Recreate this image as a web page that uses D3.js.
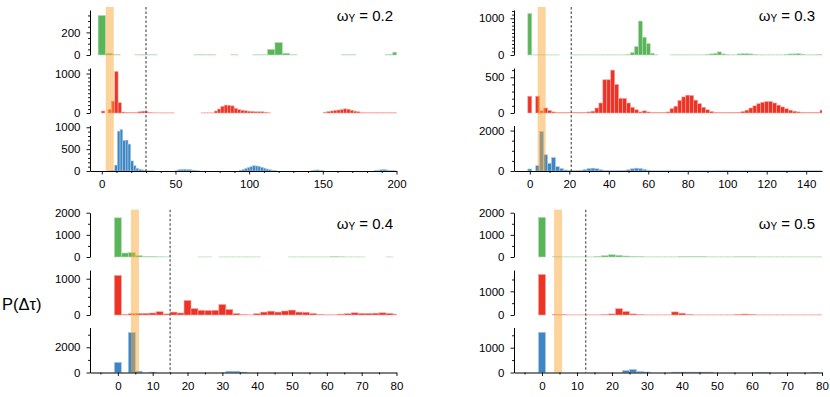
<!DOCTYPE html>
<html>
<head>
<meta charset="utf-8">
<script src="https://cdn.jsdelivr.net/npm/d3@7"></script>
<style>
  body { margin: 0; background: #fff; }
  svg text { font-family: "Liberation Sans", Arial, Helvetica, sans-serif; }
</style>
</head>
<body>
<div id="vis"></div>
<script>
// panel values
const omegaY = ['0.2', '0.3', '0.4', '0.5'];
const xMax = [200, 148, 80, 80];
const xMajor = [50, 20, 10, 10];
const xMinor = [10, 10, 5, 5];
const bandCenter = [5.4, 6, 4.9, 4.6];
const cutoff = [30, 21, 15, 12.5];

// histogram bins per panel: green, red, blue
const binStart = [[-2.5, -0.2, -0.2], [-1, -1, -1], [-1, -1, -1], [-1, -1, -1]];
const binWidth = [[5, 2.25, 1.8], [2, 2, 2], [2, 2, 2], [2, 2, 2]];
const yMax = [[398, 1140, 1040], [1226, 630, 2250], [2000, 1240, 3570], [2000, 1900, 1815]];
const yMajor = [[200, 1000, 500], [1000, 500, 2000], [1000, 1000, 2000], [1000, 1000, 1000]];
const yMinor = [[50, 100, 100], [100, 100, 500], [500, 250, 1000], [500, 500, 500]];

// counts (null = empty bin)
const green02 = [350, 15, 3, null, null, 2, 2, 2, null, null, null, null, null, 2, 2, 2, null, null, 2, null,
  null, 2, 2, 50, 110, 15, 2, null, null, null, null, null, null, 2, 2, null, null, null, null, 3, 25];
const red02 = [50, null, 90, 300, 1050, 260, 25, 15, 10, 8, 10, 30, 45, 45, 10, 5,
  3, 3, 3, 3, 3, 3, null, null, null, null, null, null, null, null, 3, 3, 3, 3,
  50, 100, 170, 200, 195, 180, 120, 85, 70, 55, 45, 40, 30, 30, 30, 20, 5,
  null, null, null, null, null, null, null, null, null, null, null, null, null, null, null, null,
  20, 35, 50, 65, 75, 85, 105, 95, 70, 45, 30,
  5, 5, 5, 5, 5, 5, 5, 5, 5, 5, 5, 5];
const blue02 = [null, null, null, 5, 10, 135, 910, 945, 700, 705, 615, 230, 120, 60, 40, 25, 10, 3, 3, 3,
  null, null, null, null, null, null, null, null, 15, 30, 40, 40, 35, 30, 20, 10, 5,
  null, null, null, null, null, null, null, null, null, null, null, null, null, null, null,
  20, 35, 55, 80, 100, 120, 115, 105, 85, 65, 45, 30, 15, 8,
  null, null, null, null, null, null, null, null, null, null, null, null, null,
  10, 20, 25, 15, 5,
  null, null, null, null, null, null, null, null, null, null, null, null, null, null, null, null, null, null, null,
  10, 20, 30, 35, 25, 15, 10, 5];

const green03 = [1130, 3, 3, 3, 3, 3, 3, 3, null, null, null, 3, 3, 3, 3, 3, 3, 3, 3, 3, 3, 3, 3, 3, 3,
  10, 65, 230, 925, 485, 310, 45, 5, null, null, null, 3, 3, 3, 3, 3, 3, 3, 3, 3,
  20, 30, 45, 85, 30, 10, 3, 3, 30, 35, 35, 30, 10, 3, 3, 3, 3, 3, 3, 3,
  20, 30, 30, 40, 25, 5, 3, 3, 10, 15];
const red03 = [235, null, 235, 30, 70, 35, 15, 5, 5, 5, 5, 10, 10, 10, 10,
  15, 25, 70, 140, 465, 465, 600, 400, 205, 205, 140, 80, 45, 15, 30, 15, 8, 8, 8, 8,
  15, 60, 95, 175, 225, 250, 245, 180, 130, 80, 45, 20, 10, 5, 5, 5, 5,
  8, 10, 20, 40, 70, 100, 130, 150, 160, 160, 140, 110, 85, 60, 40, 25, 15, 10, 8, 8, 8, 8, 40];
const blue03 = [100, null, 265, 1950, 800, 380, 665, 215, 120, 50, 20, 20, 20,
  40, 70, 120, 140, 110, 60, 30, 15, 15, 15, 15, 30, 60, 110, 140, 120, 80, 40,
  10, 10, 10, 10, 10, 10, 10, 10, 10, 10, 10, 10, 10, 10, 10, 10, 15, 20, 20, 15,
  10, 10, 10, 10, 10, 10, 10, 10, 10, 10, 10, 10, 10, 10, 10, 10, 10, 10, 10, 10, 10, 10, 10, 10];

const green04 = [1770, 180, 195, 60, 30, 15, 8, 5, null, null, null, null, 3, 3, null, 3, 3, 3, 3, 3, 3,
  null, null, null, null, 3, 3, 3, 3, 3, 3, 15, 10, 3, 3, 3, null, null, null, 3, null];
const red04 = [1090, 15, 35, 45, 45, 55, 90, 30, 80, 55, 400, 175, 130, 120, 130, 290, 150, 40, 10, 5,
  35, 80, 105, 80, 110, 135, 80, 75, 40, 20, 5, 5, 25, 35, 60, 45, 45, 50, 60, 45, 25];
const blue04 = [800, null, 3170, 100, null, 30, null, null, null, null, null, null, null, null, null, null,
  100, 100, 30, null, null, null, null, null, null, null, null, null, null, null, null, null, null, null, null,
  null, null, null, null, null, null];

const green05 = [1790, null, 10, 5, 5, 5, 5, 5, 30, 60, 100, 75, 45, 30, 15, 5, 5, 5, 5, 5,
  15, 15, 15, 15, 5, 5, 5, 5, 12, 12, 12, 5, 5, 5, 5, 5, 5, 5, 5, 5, 5];
const red05 = [1710, null, 30, 15, 5, 5, 5, 5, 5, 15, 45, 265, 145, 45, 15, 5, 5, 5, 5, 130, 75, 30,
  5, 5, 5, 5, 5, 5, 30, 40, 30, 5, 5, 5, 5, 5, 5, 5, 5, 5, 5];
const blue05 = [1620, null, null, null, null, null, null, null, null, null, null, null, 80, 120, 40, 20,
  null, null, null, 15, 15, 15, 15, 15, 15, null, null, null, null, null, null, 10, 10,
  null, null, null, null, null, null, 10, null];

const series = [[green02, red02, blue02], [green03, red03, blue03], [green04, red04, blue04], [green05, red05, blue05]];

// layout
const width = 830, height = 397;
const colLeft = [90, 514], colRight = [396.5, 822];
const titleX = [393, 815], titleY = [21, 228.5];
const rowBands = [
  [[10, 55], [68, 113], [125.5, 171]],
  [[212.7, 257], [270, 315], [327.5, 372.5]]
];
const colors = ['#5ab55a', '#ec3325', '#3f87c4'];
const fontStack = '"Liberation Sans", Arial, Helvetica, sans-serif';

let svg = d3.select('#vis')
  .append('svg')
  .attr('width', width)
  .attr('height', height);

function minorTicks(lo, hi, step, major) {
  return d3.range(Math.ceil(lo / step) * step, hi + 1e-6, step)
    .filter(v => Math.abs(v / major - Math.round(v / major)) > 1e-6);
}

function styleAxis(g) {
  g.attr('font-size', 11.5).attr('font-family', fontStack);
  g.selectAll('line').attr('stroke', '#000').attr('stroke-width', 0.9);
  g.selectAll('path').attr('stroke', '#000').attr('stroke-width', 1);
  g.selectAll('text').attr('fill', '#000');
}

omegaY.forEach(function(w, p) {
  let col = p % 2, row = Math.floor(p / 2);
  let xScale = d3.scaleLinear()
    .domain([-8, xMax[p]])
    .range([colLeft[col], colRight[col]]);

  let panel = svg.append('g');

  panel.append('clipPath')
    .attr('id', 'clip' + p)
    .append('rect')
      .attr('x', colLeft[col])
      .attr('y', 0)
      .attr('width', colRight[col] - colLeft[col])
      .attr('height', height);

  series[p].forEach(function(vals, s) {
    let top = rowBands[row][s][0], base = rowBands[row][s][1];
    let yScale = d3.scaleLinear()
      .domain([0, yMax[p][s]])
      .range([base, top]);

    let bw = binWidth[p][s];
    let bins = vals
      .map((v, i) => ({ x0: binStart[p][s] + i * bw, v: v }))
      .filter(d => d.v != null);

    //Draw bars
    panel.append('g')
      .attr('clip-path', 'url(#clip' + p + ')')
      .selectAll('rect')
      .data(bins)
      .join('rect')
        .attr('x', d => xScale(d.x0))
        .attr('width', d => xScale(d.x0 + bw) - xScale(d.x0))
        .attr('y', d => yScale(d.v))
        .attr('height', d => base - yScale(d.v))
        .attr('fill', colors[s])
        .attr('stroke', d3.interpolateRgb(colors[s], '#fff')(0.55))
        .attr('stroke-width', 0.6);

    // y axis, major + minor
    let yMaj = d3.range(0, yMax[p][s] + 1e-6, yMajor[p][s]);
    let yAxis = panel.append('g')
      .attr('transform', `translate(${colLeft[col]},0)`)
      .call(d3.axisLeft(yScale).tickValues(yMaj).tickSize(3.5).tickSizeOuter(0).tickPadding(6)
        .tickFormat(d3.format('d')));
    styleAxis(yAxis);
    let yMin = panel.append('g')
      .attr('transform', `translate(${colLeft[col]},0)`)
      .call(d3.axisLeft(yScale).tickValues(minorTicks(0, yMax[p][s], yMinor[p][s], yMajor[p][s]))
        .tickSize(2).tickFormat(''));
    yMin.select('.domain').remove();
    styleAxis(yMin);
  });

  let bandTop = rowBands[row][0][0] - 3;
  let bandBottom = rowBands[row][2][1];

  // orange band
  panel.append('rect')
    .attr('x', xScale(bandCenter[p]) - 4)
    .attr('width', 8)
    .attr('y', bandTop)
    .attr('height', bandBottom - bandTop)
    .attr('fill', '#f8a838')
    .attr('opacity', 0.5);

  // dashed cutoff
  panel.append('line')
    .attr('x1', xScale(cutoff[p])).attr('x2', xScale(cutoff[p]))
    .attr('y1', bandTop).attr('y2', bandBottom)
    .attr('stroke', '#555')
    .attr('stroke-width', 1.2)
    .attr('stroke-dasharray', '2.5,2');

  //Draw x axis
  let xMaj = d3.range(Math.ceil(-8 / xMajor[p]) * xMajor[p], xMax[p] + 1e-6, xMajor[p]);
  let xAxis = panel.append('g')
    .attr('transform', `translate(0,${bandBottom})`)
    .call(d3.axisBottom(xScale).tickValues(xMaj).tickSize(3.5).tickSizeOuter(0).tickPadding(5.5)
      .tickFormat(d3.format('d')));
  styleAxis(xAxis);
  let xMin = panel.append('g')
    .attr('transform', `translate(0,${bandBottom})`)
    .call(d3.axisBottom(xScale).tickValues(minorTicks(-8, xMax[p], xMinor[p], xMajor[p]))
      .tickSize(2).tickFormat(''));
  xMin.select('.domain').remove();
  styleAxis(xMin);

  // title
  let title = panel.append('text')
    .attr('x', titleX[col])
    .attr('y', titleY[row])
    .attr('text-anchor', 'end')
    .attr('font-size', 15)
    .attr('fill', '#000');
  title.append('tspan').text('ω');
  title.append('tspan').attr('font-size', 10).attr('dy', 1).text('Y');
  title.append('tspan').attr('dy', -1).text(' = ' + w);
});

//Add label
svg.append('text')
  .attr('x', 2)
  .attr('y', 310)
  .attr('font-size', 16.5)
  .attr('fill', '#000')
  .text('P(Δτ)');
</script>
</body>
</html>
